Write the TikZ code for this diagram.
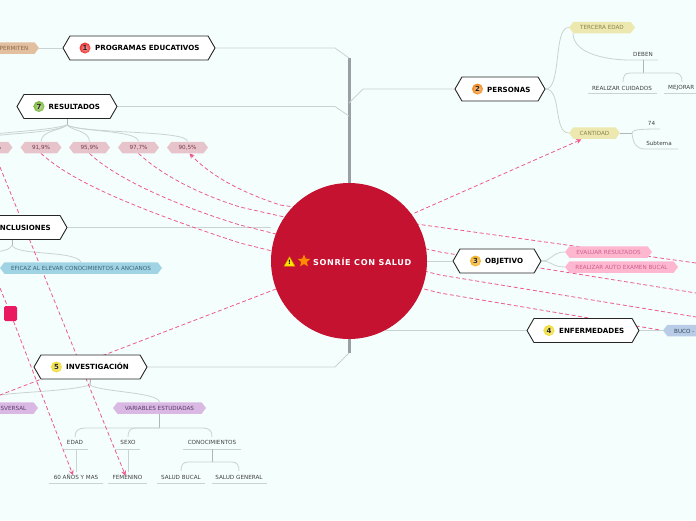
\documentclass[tikz,border=0pt]{standalone}
\usepackage{fontspec}
\setmainfont{DejaVu Sans}
\usetikzlibrary{shapes.symbols,shapes.geometric,arrows.meta}
\pgfdeclarelayer{links}
\pgfsetlayers{links,main}
\definecolor{bgc}{HTML}{F4FFFD}
\definecolor{linkc}{HTML}{EE5A8A}
\definecolor{connc}{HTML}{C9D3D0}
\definecolor{trunkc}{HTML}{9A9FA3}
\definecolor{stemc}{HTML}{AEB6B6}
\definecolor{hubc}{HTML}{C41230}
\definecolor{sqc}{HTML}{E91A5F}
\definecolor{tan}{HTML}{E2C09F}\definecolor{tant}{HTML}{8A6A4A}
\definecolor{rose}{HTML}{E7C4CB}\definecolor{roset}{HTML}{7A3A4C}
\definecolor{sky}{HTML}{A0D4E4}\definecolor{skyt}{HTML}{3A6478}
\definecolor{lil}{HTML}{D9B8E4}\definecolor{lilt}{HTML}{5A3A6A}
\definecolor{sand}{HTML}{EDE8B0}\definecolor{sandt}{HTML}{8A8450}
\definecolor{pinkt}{HTML}{FFB6CF}\definecolor{pinkx}{HTML}{CC5F8C}
\definecolor{blu}{HTML}{B8CCE8}\definecolor{blut}{HTML}{3A4A5A}
\definecolor{ballr}{HTML}{EE3030}
\definecolor{ballg}{HTML}{7CB83A}
\definecolor{bally}{HTML}{F0DC30}
\definecolor{ballo}{HTML}{F58A20}
\definecolor{balla}{HTML}{F5B020}
\tikzset{
  hexbox/.style={signal,signal to=west and east,signal pointer angle=120,draw=black!85,fill=white,line width=.9pt,inner sep=0pt,minimum height=24pt},
  toptext/.style={font=\fontsize{7.1}{8}\selectfont\bfseries,text=black,inner sep=0pt,anchor=west},
  tagbox/.style={signal,signal to=west and east,signal pointer angle=105,inner sep=0pt,minimum height=11.5pt,font=\fontsize{5.65}{6}\selectfont},
  tagtext/.style={font=\fontsize{5.65}{6}\selectfont,inner sep=0pt},
  plain/.style={font=\fontsize{5.65}{6}\selectfont,text=black!75,inner sep=0pt},
  numball/.style={circle,inner color=#1!45!white,outer color=#1,inner sep=0pt,minimum size=11pt,font=\fontsize{7}{8}\selectfont\bfseries,text=black!85},
  conn/.style={draw=connc,line width=.8pt},
  stem/.style={draw=stemc,line width=1pt},
  under/.style={draw=connc,line width=.7pt},
  trunk/.style={draw=trunkc,line width=3pt},
  link/.style={draw=linkc,line width=.8pt,dash pattern=on 4pt off 2.5pt},
  linka/.style={link,-{Stealth[length=5pt,width=5pt]}}
}
\begin{document}
\begin{tikzpicture}[x=1pt,y=-1pt]
\useasboundingbox (0,0) rectangle (696,520);
\begin{pgfonlayer}{links}
\fill[bgc] (0,0) rectangle (696,520);
\end{pgfonlayer}

% hub
\node[circle,fill=hubc,minimum size=156pt,inner sep=0pt] (hub) at (349,261) {};
\node[regular polygon,regular polygon sides=3,fill=yellow!85!orange,draw=orange!80!black,line width=.4pt,inner sep=0pt,minimum size=13pt] (warn) at (289.5,263) {};
\node[font=\fontsize{6}{6}\selectfont\bfseries,text=black,inner sep=0pt] (warnx) at (289.5,262.5) {!};
\node[star,star points=5,star point ratio=2.2,fill=orange!90!yellow,inner sep=0pt,minimum size=13pt] (fav) at (304,261) {};
\node[font=\fontsize{8.1}{9}\selectfont\bfseries\addfontfeature{LetterSpace=8},text=white,inner sep=0pt,anchor=west] (hubt) at (313,262) {SONRÍE CON SALUD};

% main topics
\node[hexbox,minimum width=152pt] (prog) at (139,48) {};
\node[numball=ballr] (b1) at (85,48) {1};
\node[toptext] (t1) at (95,48) {PROGRAMAS EDUCATIVOS};

\node[hexbox,minimum width=100pt] (res) at (67,106.5) {};
\node[numball=ballg] (b7) at (39,106.5) {7};
\node[toptext] (t7) at (48.5,106.5) {RESULTADOS};

\node[hexbox,minimum width=134pt] (conc) at (0,227.5) {};
\node[toptext,anchor=east] (t6) at (51,228) {CONCLUSIONES};

\node[hexbox,minimum width=113pt] (inv) at (90.5,367) {};
\node[numball=bally] (b5) at (56.5,367) {5};
\node[toptext] (t5) at (66,366.5) {INVESTIGACIÓN};

\node[hexbox,minimum width=90pt] (per) at (500,89) {};
\node[numball=ballo] (b2) at (477.5,89) {2};
\node[toptext] (t2) at (487,89.5) {PERSONAS};

\node[hexbox,minimum width=88pt] (obj) at (497,261) {};
\node[numball=balla] (b3) at (475.5,261) {3};
\node[toptext] (t3) at (485,261.5) {OBJETIVO};

\node[hexbox,minimum width=112pt] (enf) at (583,330.5) {};
\node[numball=bally] (b4) at (549,330.5) {4};
\node[toptext] (t4) at (559,330.5) {ENFERMEDADES};

% tags
\node[tagbox,fill=tan,minimum width=70pt] (perm) at (4,48) {};
\node[tagtext,text=tant,anchor=east] (permt) at (28.5,48.5) {PERMITEN};

\node[tagbox,fill=rose,minimum width=41pt] (r0) at (-8,147.5) {};
\node[tagtext,text=roset,anchor=east] (r0t) at (1.5,147.5) {\%};
\node[tagbox,fill=rose,minimum width=41pt,text=roset] (r1) at (41,147.5) {91,9\%};
\node[tagbox,fill=rose,minimum width=41pt,text=roset] (r2) at (89.5,147.5) {95,9\%};
\node[tagbox,fill=rose,minimum width=41pt,text=roset] (r3) at (138.5,147.5) {97,7\%};
\node[tagbox,fill=rose,minimum width=41pt,text=roset] (r4) at (187.5,147.5) {90,5\%};

\node[tagbox,fill=sky,minimum width=162pt,text=skyt] (efi) at (81,268) {EFICAZ AL ELEVAR CONOCIMIENTOS A ANCIANOS};

\node[tagbox,fill=lil,minimum width=78pt] (tra) at (-1,408) {};
\node[tagtext,text=lilt,anchor=east] (trat) at (26.5,408.5) {TRANSVERSAL};
\node[tagbox,fill=lil,minimum width=93pt,text=lilt] (var) at (159.5,408) {VARIABLES ESTUDIADAS};

\node[tagbox,fill=sand,minimum width=66pt,text=sandt] (ter) at (602,27.5) {TERCERA EDAD};
\node[tagbox,fill=sand,minimum width=51pt,text=sandt] (can) at (594.5,133) {CANTIDAD};

\node[tagbox,fill=pinkt,minimum width=87pt,text=pinkx] (eva) at (608.5,252) {EVALUAR RESULTADOS};
\node[tagbox,fill=pinkt,minimum width=113pt,text=pinkx] (rea) at (621.5,267) {REALIZAR AUTO EXAMEN BUCAL};

\node[tagbox,fill=blu,minimum width=60pt] (buc) at (693,330.5) {};
\node[tagtext,text=blut,anchor=west] (buct) at (674,331) {BUCO -};

\node[fill=sqc,rounded corners=1.5pt,minimum width=13pt,minimum height=15pt,inner sep=0pt] (sq) at (10.5,313.5) {};

% plain labels
\node[plain] (deb) at (643,54) {DEBEN};
\node[plain] (rcu) at (622,88) {REALIZAR CUIDADOS};
\node[plain,anchor=west] (mej) at (668,88) {MEJORAR};
\node[plain] (n74) at (651.5,123) {74};
\node[plain] (sub) at (659,143) {Subtema};
\node[plain] (eda) at (75,442) {EDAD};
\node[plain] (sex) at (128,442) {SEXO};
\node[plain] (con) at (212,442) {CONOCIMIENTOS};
\node[plain] (a60) at (76,477) {60 AÑOS Y MAS};
\node[plain] (fem) at (127.5,477) {FEMENINO};
\node[plain] (sab) at (181,477) {SALUD BUCAL};
\node[plain] (sag) at (239,477) {SALUD GENERAL};

% free ends
\coordinate (offr1) at (696,263);
\coordinate (offr2) at (696,293);
\coordinate (offr3) at (696,317);
\coordinate (offl1) at (0,167);
\coordinate (offl2) at (0,288);
\coordinate (offl3) at (0,395);
\coordinate (joint1) at (349,58);
\coordinate (joint2) at (349,116);
\coordinate (joint3) at (349,103);

\begin{pgfonlayer}{links}
% trunk and branches
\draw[trunk] (joint1) -- (hub.north);
\draw[trunk] (hub.south) -- (349,353);
\draw[conn] (prog.east) -- (335,48) -- (joint1);
\draw[conn] (res.east) -- (335,106.5) -- (joint2);
\draw[conn] (per.west) -- (363,89) -- (joint3);
\draw[conn] (conc.east) -- (hub.west |- conc.east);
\draw[conn] (inv.east) -- (335,367) -- (349,353);
\draw[conn] (obj.west) -- (hub.east |- obj.west);
\draw[conn] (enf.west) -- (385,330.5);
% programas
\draw[conn] (perm.east) -- (prog.west);
% resultados
\draw[stem] (res.south) -- (67,125);
\draw[conn] (67,125) .. controls (60,131) and (42,130) .. (r1.north);
\draw[conn] (67,125) .. controls (72,131) and (89,130) .. (r2.north);
\draw[conn] (67,125) .. controls (80,132) and (138,130) .. (r3.north);
\draw[conn] (67,125) .. controls (85,134) and (188,130) .. (r4.north);
\draw[conn] (67,125) .. controls (55,133) and (10,133) .. (-5,136);
\draw[conn] (67,125) .. controls (50,130) and (20,131) .. (-5,134);
% conclusiones
\draw[stem] (conc.south -| 12,0) -- (12,245);
\draw[conn] (12,245) .. controls (15,256) and (75,250) .. (efi.north);
\draw[conn] (12,245) .. controls (10,250) and (5,250) .. (-3,252);
% investigacion
\draw[stem] (inv.south) -- (90,385);
\draw[conn] (90,385) .. controls (70,391) and (20,392) .. (offl3);
\draw[conn] (90,385) .. controls (100,392) and (158,392) .. (var.north);
\draw[stem] (var.south) -- (159.5,427.5);
\draw[conn] (159.5,428) -- (85,428) .. controls (78,428) and (75,431) .. (75,437);
\draw[conn] (159.5,428) -- (136,428) .. controls (130,428) and (128,431) .. (128,437);
\draw[conn] (159.5,428) -- (202,428) .. controls (210,428) and (212,431) .. (212,437);
\draw[under] (64,449) -- (88,449);
\draw[under] (115,449) -- (140,449);
\draw[under] (183,449) -- (241,449);
\draw[conn] (76,449) -- (76,472);
\draw[conn] (128,449) -- (128,472);
\draw[under] (49,483) -- (103,483);
\draw[under] (108,483) -- (147,483);
\draw[under] (157,483) -- (205,483);
\draw[under] (212,483) -- (267,483);
\draw[stem] (212,449) -- (212,462);
\draw[conn] (212,462) -- (188,462) .. controls (183,462) and (181,465) .. (181,471);
\draw[conn] (212,462) -- (232,462) .. controls (237,462) and (239,465) .. (239,471);
% personas
\draw[conn] (per.east) .. controls (562,89) and (553,27) .. (ter.west);
\draw[conn] (per.east) .. controls (562,89) and (553,133) .. (can.west);
\draw[conn] (573,33) .. controls (573,55) and (610,60) .. (630,60) -- (658,60);
\draw[stem] (643,60) -- (643,73);
\draw[conn] (643,73) -- (630,73) .. controls (625,73) and (623,76) .. (623,82);
\draw[conn] (643,73) -- (675,73) .. controls (680,73) and (682,76) .. (682,82);
\draw[under] (588,93.5) -- (657,93.5);
\draw[under] (664,93.5) -- (696,93.5);
\draw[stem] (can.east) -- (632,133);
\draw[conn] (632,133) .. controls (633,130) and (636,129) .. (660,129);
\draw[conn] (632,133) .. controls (633,143) and (636,149) .. (645,149) -- (678,149);
% objetivo, enfermedades
\draw[conn] (obj.east) .. controls (552,261) and (552,252) .. (eva.west);
\draw[conn] (obj.east) .. controls (552,261) and (552,267) .. (rea.west);
\draw[conn] (enf.east) -- (buc.west);
% dashed links
\draw[linka] (349,242) -- ([xshift=8pt,yshift=-0.5pt]can.south west);
\draw[link] (r1.south) .. controls (70,180) and (130,207) .. (240,243) -- (440,293) -- (660,330);
\draw[link] (r2.south) .. controls (115,178) and (175,205) .. (240,225) -- (440,275) -- (offr3);
\draw[link] (r3.south) .. controls (165,178) and (205,196) .. (240,207) -- (440,252) -- (offr2);
\draw[linka] (offr1) -- (280,205) .. controls (250,195) and (215,180) .. ([xshift=2pt]r4.south);
\draw[linka] (offl1) -- ([xshift=-2pt,yshift=-1pt]fem.north);
\draw[linka] (offl2) -- (sq) -- ([xshift=-3pt,yshift=-1pt]a60.north);
\draw[link] (hub.center) -- (offl3);
\end{pgfonlayer}
\end{tikzpicture}
\end{document}
